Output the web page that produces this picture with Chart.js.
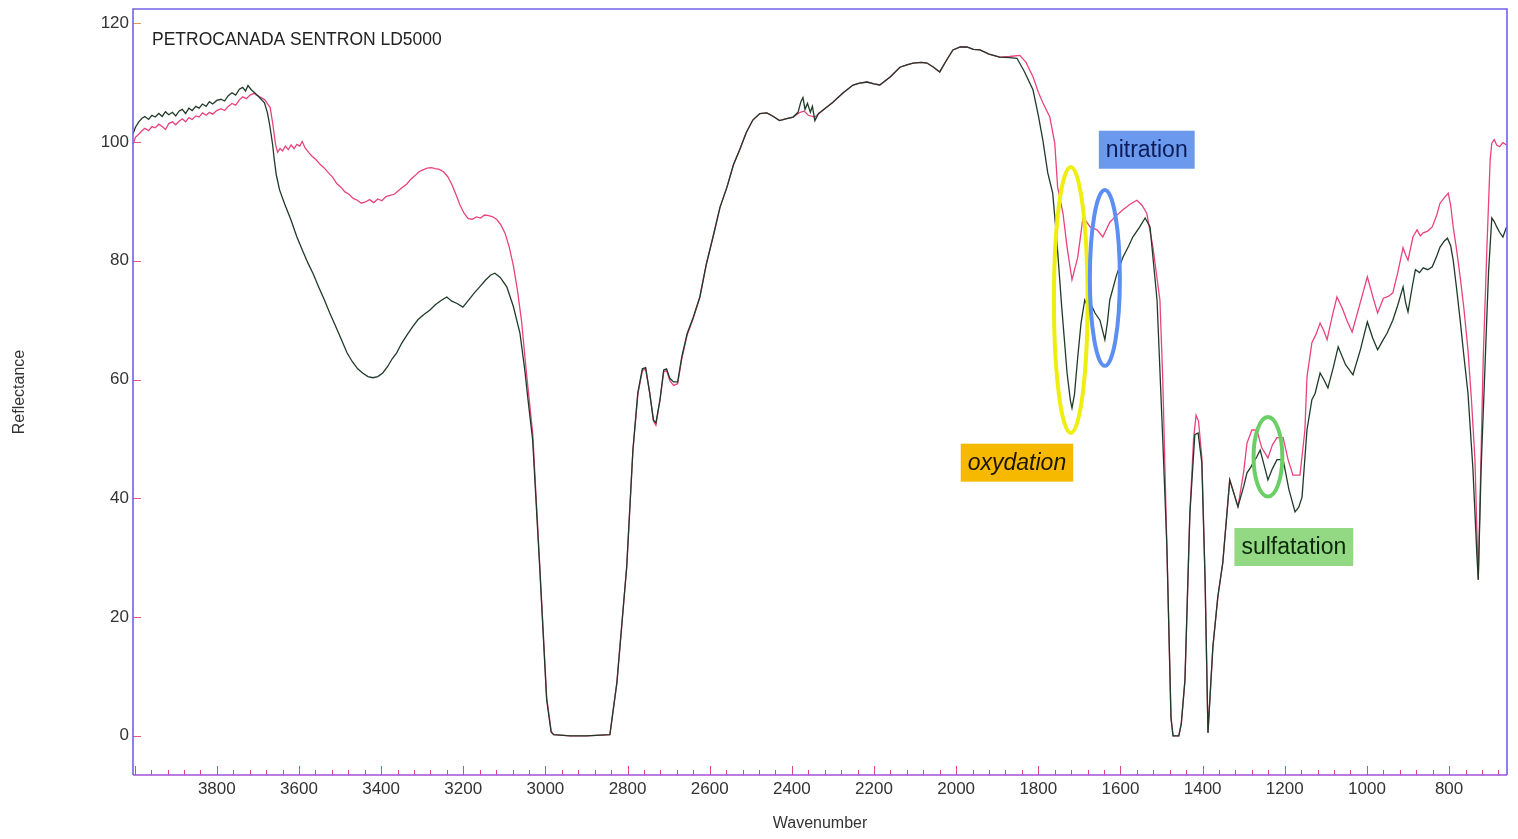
<!DOCTYPE html>
<html>
<head>
<meta charset="utf-8">
<title>PETROCANADA SENTRON LD5000</title>
<script src="https://cdn.jsdelivr.net/npm/chart.js@4.4.0/dist/chart.umd.min.js"></script>
<style>
  html, body { margin: 0; padding: 0; background: #fff; }
  #spectrum { display: block; }
</style>
</head>
<body>
<canvas id="spectrum" width="1518" height="839"></canvas>
<script>
// reference (new oil) spectrum - pink
const pinkWavenumbers = [
  4004, 3998, 3990, 3982, 3975, 3966, 3958, 3950, 3941, 3933, 3925, 3917, 3908, 3900, 3892, 3884,
  3876, 3868, 3860, 3851, 3843, 3835, 3826, 3818, 3810, 3800, 3790, 3781, 3772, 3763, 3754, 3745,
  3737, 3728, 3719, 3710, 3701, 3692, 3683, 3676, 3670, 3664, 3657, 3652, 3646, 3640, 3633, 3626,
  3619, 3612, 3605, 3598, 3592, 3585, 3576, 3568, 3558, 3548, 3538, 3528, 3518, 3508, 3498, 3488,
  3478, 3468, 3458, 3448, 3438, 3428, 3418, 3408, 3398, 3388, 3378, 3368, 3358, 3348, 3338, 3328,
  3318, 3308, 3298, 3288, 3278, 3268, 3258, 3248, 3238, 3228, 3218, 3208, 3198, 3188, 3178, 3168,
  3158, 3148, 3138, 3128, 3118, 3108, 3098, 3088, 3078, 3068, 3058, 3046, 3031, 3014, 2997, 2986,
  2980, 2940, 2900, 2843, 2826, 2802, 2787, 2775, 2764, 2756, 2746, 2737, 2731, 2721, 2712, 2705,
  2697, 2688, 2678, 2668, 2655, 2640, 2624, 2608, 2592, 2575, 2558, 2542, 2527, 2511, 2495, 2478,
  2461, 2445, 2430, 2415, 2397, 2380, 2370, 2360, 2344, 2320, 2300, 2275, 2251, 2235, 2217, 2200,
  2186, 2160, 2137, 2120, 2105, 2085, 2071, 2055, 2040, 2025, 2008, 1990, 1974, 1958, 1942, 1920,
  1894, 1870, 1845, 1830, 1813, 1800, 1789, 1772, 1760, 1753, 1740, 1730, 1718, 1704, 1691, 1674,
  1657, 1643, 1626, 1610, 1594, 1575, 1560, 1548, 1536, 1521, 1504, 1497, 1487, 1477, 1472, 1458,
  1452, 1443, 1431, 1422, 1416, 1410, 1402, 1394, 1387, 1375, 1363, 1351, 1334, 1314, 1300, 1292,
  1280, 1268, 1256, 1241, 1230, 1219, 1204, 1192, 1180, 1163, 1151, 1146, 1134, 1124, 1114, 1105,
  1097, 1085, 1073, 1060, 1048, 1036, 1018, 999, 985, 974, 960, 948, 937, 925, 912, 906,
  900, 888, 878, 870, 863, 852, 841, 830, 822, 812, 802, 796, 790, 782, 773, 764,
  754, 745, 737, 729, 722, 717, 708, 700, 696, 690, 684, 677, 669, 660
];
const pinkReflectance = [
  99.6, 100.8, 101.3, 101.9, 102.3, 101.9, 102.6, 102.4, 103.0, 102.6, 102.1, 103.1, 103.4, 102.9, 103.5, 103.9,
  103.4, 104.1, 103.8, 104.4, 104.2, 104.9, 104.5, 105.0, 104.7, 105.3, 105.6, 105.3, 106.0, 106.5, 106.2, 107.1,
  107.6, 107.3, 107.9, 108.2, 107.8, 107.5, 107.1, 106.4, 105.8, 103.2, 99.6, 98.3, 98.9, 98.5, 99.3, 98.7,
  99.5, 98.9, 99.6, 99.3, 100.1, 99.0, 98.2, 97.6, 97.0, 96.2, 95.6, 94.8, 94.1, 93.0, 92.4, 91.6,
  91.2, 90.5, 90.2, 89.7, 89.9, 90.3, 89.8, 90.4, 90.1, 90.8, 91.0, 91.2, 91.8, 92.4, 92.9, 93.7,
  94.3, 95.0, 95.3, 95.6, 95.7, 95.5, 95.4, 95.0, 94.2, 92.9, 91.2, 89.4, 88.0, 87.1, 87.0, 87.4,
  87.2, 87.7, 87.6, 87.4, 86.9, 86.0, 84.6, 82.3, 79.2, 75.0, 69.8, 61.0, 51.0, 29.0, 6.5, 0.8,
  0.2, 0, 0, 0.2, 9.0, 28.5, 48.0, 57.5, 61.5, 61.8, 57.7, 53.0, 52.3, 56.6, 61.3, 61.5,
  59.8, 59.0, 59.3, 63.5, 67.5, 70.3, 73.9, 79.5, 84.0, 89.0, 92.4, 96.2, 98.7, 101.6, 103.7, 104.8,
  104.9, 104.3, 103.6, 103.9, 104.2, 105.0, 105.2, 104.5, 104.2, 105.6, 106.7, 108.3, 109.6, 109.9, 110.1, 109.8,
  109.6, 111.0, 112.6, 113.0, 113.3, 113.4, 113.3, 112.6, 111.8, 113.6, 115.5, 116.0, 116.0, 115.6, 115.5, 114.8,
  114.3, 114.4, 114.6, 113.4, 111.0, 108.4, 106.6, 104.2, 99.8, 92.4, 88.0, 82.3, 76.8, 80.6, 87.4, 85.7,
  85.2, 84.0, 86.5, 87.6, 88.6, 89.6, 90.2, 89.4, 88.0, 82.3, 73.4, 60.0, 31.8, 3.0, 0, 0,
  2.0, 9.4, 37.5, 50.0, 54.0, 53.0, 47.0, 26.3, 0.5, 15.0, 23.4, 29.1, 43.1, 38.6, 44.5, 49.3,
  51.5, 51.5, 48.5, 46.8, 49.0, 50.2, 50.2, 46.5, 43.9, 43.9, 51.5, 60.4, 66.2, 67.6, 69.5, 68.2,
  66.7, 70.5, 73.9, 72.0, 69.8, 68.0, 72.5, 77.3, 73.8, 71.2, 73.7, 74.0, 74.6, 78.0, 82.2, 81.0,
  80.1, 84.0, 85.2, 84.2, 84.7, 85.0, 85.7, 87.7, 89.7, 90.6, 91.4, 89.3, 85.7, 82.0, 77.3, 72.0,
  65.0, 56.0, 46.5, 26.3, 48.0, 63.3, 82.0, 97.0, 99.8, 100.4, 99.5, 99.2, 99.9, 99.5
];

// used oil spectrum - dark green
const greenWavenumbers = [
  4004, 3998, 3990, 3982, 3975, 3966, 3958, 3950, 3941, 3933, 3925, 3917, 3908, 3900, 3892, 3884,
  3876, 3868, 3860, 3851, 3843, 3835, 3826, 3818, 3810, 3800, 3790, 3781, 3772, 3763, 3754, 3745,
  3737, 3730, 3724, 3716, 3708, 3700, 3692, 3684, 3677, 3672, 3668, 3664, 3660, 3655, 3647, 3635,
  3620, 3605, 3590, 3578, 3566, 3552, 3538, 3525, 3511, 3497, 3483, 3470, 3457, 3445, 3432, 3420,
  3408, 3396, 3384, 3373, 3362, 3350, 3336, 3323, 3310, 3295, 3281, 3268, 3254, 3240, 3228, 3215,
  3201, 3188, 3174, 3160, 3145, 3133, 3123, 3110, 3094, 3078, 3062, 3050, 3043, 3031, 3014, 2997,
  2986, 2980, 2940, 2900, 2843, 2826, 2802, 2787, 2775, 2764, 2756, 2746, 2737, 2731, 2721, 2712,
  2705, 2697, 2688, 2678, 2668, 2655, 2640, 2624, 2608, 2592, 2575, 2558, 2542, 2527, 2511, 2495,
  2478, 2461, 2445, 2430, 2415, 2397, 2385, 2378, 2373, 2368, 2362, 2355, 2350, 2344, 2335, 2320,
  2300, 2275, 2251, 2235, 2217, 2200, 2186, 2160, 2137, 2120, 2105, 2085, 2071, 2055, 2040, 2025,
  2008, 1990, 1974, 1958, 1942, 1920, 1894, 1870, 1852, 1835, 1813, 1800, 1789, 1777, 1765, 1755,
  1743, 1730, 1722, 1718, 1712, 1704, 1696, 1687, 1678, 1670, 1662, 1650, 1638, 1632, 1626, 1610,
  1594, 1580, 1570, 1555, 1540, 1528, 1511, 1497, 1487, 1477, 1472, 1458, 1452, 1443, 1431, 1419,
  1411, 1402, 1394, 1387, 1375, 1363, 1351, 1334, 1314, 1300, 1292, 1283, 1277, 1268, 1260, 1250,
  1241, 1230, 1219, 1204, 1190, 1175, 1166, 1158, 1146, 1134, 1126, 1114, 1105, 1095, 1082, 1070,
  1052, 1034, 1016, 999, 986, 974, 962, 951, 937, 925, 912, 906, 900, 890, 882, 872,
  863, 852, 841, 830, 822, 812, 804, 796, 790, 782, 773, 764, 754, 742, 732, 729,
  722, 712, 704, 696, 690, 684, 677, 669, 660
];
const greenReflectance = [
  101.4, 102.5, 103.4, 104.0, 104.3, 103.8, 104.5, 104.2, 104.8, 104.3, 105.1, 104.6, 105.0, 104.4, 105.2, 105.5,
  104.8, 105.7, 105.3, 106.0, 105.7, 106.4, 106.0, 106.8, 106.4, 107.0, 107.2, 106.9, 107.8, 108.3, 107.9, 108.9,
  109.2, 108.6, 109.5, 108.8, 108.3, 107.8, 107.2, 106.6, 105.0, 103.2, 101.4, 99.5, 97.0, 94.4, 91.9, 89.6,
  87.0, 84.0, 81.5, 79.6, 77.9, 75.6, 73.4, 71.2, 69.0, 66.8, 64.5, 63.0, 61.8, 61.1, 60.5, 60.3,
  60.5, 61.1, 62.2, 63.5, 64.5, 66.1, 67.6, 68.9, 70.1, 71.0, 71.7, 72.6, 73.3, 73.9, 73.2, 72.8,
  72.2, 73.3, 74.5, 75.6, 76.8, 77.6, 77.9, 77.2, 75.6, 72.3, 67.8, 61.5, 57.0, 49.8, 28.5, 6.1,
  0.6, 0.2, 0, 0, 0.2, 8.9, 28.5, 48.1, 57.8, 61.8, 62.0, 57.7, 53.2, 52.7, 56.6, 61.6,
  61.8, 60.2, 59.6, 59.6, 63.8, 67.7, 70.5, 73.9, 79.5, 84.0, 89.0, 92.4, 96.2, 98.7, 101.6, 103.7,
  104.8, 104.9, 104.3, 103.6, 103.9, 104.2, 105.0, 106.8, 107.5, 105.5, 106.5, 105.0, 106.0, 103.6, 104.8, 105.6,
  106.7, 108.3, 109.6, 109.9, 110.1, 109.8, 109.6, 111.0, 112.6, 113.0, 113.3, 113.4, 113.3, 112.6, 111.8, 113.6,
  115.5, 116.0, 116.0, 115.6, 115.5, 114.8, 114.3, 114.2, 114.1, 112.0, 108.8, 104.5, 100.3, 94.8, 91.4, 83.5,
  72.2, 61.1, 56.5, 55.2, 57.5, 63.8, 69.5, 73.4, 72.0, 72.4, 71.2, 70.0, 66.7, 69.5, 73.4, 77.5,
  80.6, 82.5, 84.0, 85.5, 87.2, 85.7, 73.4, 49.8, 31.8, 3.0, 0, 0, 2.0, 9.4, 37.5, 50.7,
  51.0, 46.0, 26.3, 0.5, 15.0, 23.4, 29.1, 43.1, 38.6, 42.0, 44.3, 45.2, 46.0, 47.0, 48.1, 45.5,
  43.1, 45.0, 46.5, 46.5, 41.5, 37.7, 38.5, 40.2, 51.5, 56.6, 57.7, 61.1, 60.0, 58.6, 62.0, 65.5,
  62.5, 60.8, 65.0, 69.7, 67.0, 65.0, 66.5, 67.8, 70.0, 72.5, 75.6, 73.0, 71.4, 75.5, 78.5, 78.0,
  78.8, 78.5, 79.0, 80.8, 82.3, 83.3, 83.8, 82.5, 80.1, 75.5, 70.0, 64.0, 57.7, 45.0, 30.0, 26.3,
  45.0, 63.3, 78.0, 87.2, 86.6, 85.7, 84.8, 84.0, 85.7
];

const xLabelTicks = [3800, 3600, 3400, 3200, 3000, 2800, 2600, 2400, 2200, 2000, 1800, 1600, 1400, 1200, 1000, 800];
const yTicks = [0, 20, 40, 60, 80, 100, 120];

// band labels and rings, placed in data coordinates
const bandLabels = [
  { text: 'nitration', wn: 1536, r: 98.7, fill: '#6a99ee', color: '#0b1d58', italic: false },
  { text: 'oxydation', wn: 1852, r: 46.0, fill: '#f7b800', color: '#1e1600', italic: true },
  { text: 'sulfatation', wn: 1178, r: 31.8, fill: '#93d883', color: '#0c260c', italic: false }
];
const bandRings = [
  { wn: 1721, r: 73.4, dWn: 41, dR: 22.4, color: '#eeee10' },
  { wn: 1638, r: 77.1, dWn: 36.5, dR: 14.8, color: '#5d8ff2' },
  { wn: 1241, r: 47.0, dWn: 35, dR: 6.7, color: '#6ccf66' }
];

const FONT = '"Liberation Sans", Arial, Helvetica, sans-serif';

const toPoints = (xs, ys) => xs.map((x, i) => ({ x: x, y: ys[i] }));

const decorations = {
  id: 'decorations',
  afterDatasetsDraw(chart) {
    const ctx = chart.ctx;
    const area = chart.chartArea;
    const xs = chart.scales.x;
    const ys = chart.scales.y;
    ctx.save();

    // rings around the bands
    bandRings.forEach(ring => {
      const cx = xs.getPixelForValue(ring.wn);
      const cy = ys.getPixelForValue(ring.r);
      const rx = Math.abs(xs.getPixelForValue(ring.wn - ring.dWn) - cx);
      const ry = Math.abs(ys.getPixelForValue(ring.r + ring.dR) - cy);
      ctx.beginPath();
      ctx.ellipse(cx, cy, rx, ry, 0, 0, Math.PI * 2);
      ctx.strokeStyle = ring.color;
      ctx.lineWidth = 4;
      ctx.stroke();
    });

    // labelled boxes
    bandLabels.forEach(lab => {
      ctx.font = (lab.italic ? 'italic ' : '') + '23px ' + FONT;
      const w = ctx.measureText(lab.text).width + 14;
      const h = 38;
      const cx = xs.getPixelForValue(lab.wn);
      const cy = ys.getPixelForValue(lab.r);
      ctx.fillStyle = lab.fill;
      ctx.fillRect(cx - w / 2, cy - h / 2, w, h);
      ctx.fillStyle = lab.color;
      ctx.textAlign = 'center';
      ctx.textBaseline = 'middle';
      ctx.fillText(lab.text, cx, cy + 1);
    });

    // sample name
    ctx.font = '17.5px ' + FONT;
    ctx.fillStyle = '#222';
    ctx.textAlign = 'left';
    ctx.textBaseline = 'middle';
    ctx.fillText('PETROCANADA SENTRON LD5000', area.left + 19, area.top + 31);
    ctx.restore();
  },
  afterDraw(chart) {
    const ctx = chart.ctx;
    const area = chart.chartArea;
    const xs = chart.scales.x;
    const ys = chart.scales.y;
    ctx.save();

    // x tick marks, pointing inward
    ctx.strokeStyle = '#e0448a';
    ctx.lineWidth = 1;
    xs.ticks.forEach(t => {
      const px = Math.round(xs.getPixelForValue(t.value)) + 0.5;
      if (px < area.left || px > area.right) return;
      const len = t.value % 200 === 0 ? 9 : 5;
      ctx.beginPath();
      ctx.moveTo(px, area.bottom);
      ctx.lineTo(px, area.bottom - len);
      ctx.stroke();
    });
    // y tick marks
    ys.ticks.forEach(t => {
      const py = Math.round(ys.getPixelForValue(t.value)) + 0.5;
      ctx.strokeStyle = t.value === 120 ? '#e89a50' : '#e8508a';
      ctx.beginPath();
      ctx.moveTo(area.left, py);
      ctx.lineTo(area.left + 8, py);
      ctx.stroke();
    });

    // frame
    ctx.lineWidth = 1.6;
    ctx.strokeStyle = '#7262ea';
    ctx.beginPath();
    ctx.moveTo(area.left, area.bottom);
    ctx.lineTo(area.left, area.top);
    ctx.lineTo(area.right, area.top);
    ctx.lineTo(area.right, area.bottom);
    ctx.stroke();
    ctx.strokeStyle = '#a64fd6';
    ctx.beginPath();
    ctx.moveTo(area.left, area.bottom);
    ctx.lineTo(area.right, area.bottom);
    ctx.stroke();

    // axis titles
    ctx.fillStyle = '#333';
    ctx.font = '16px ' + FONT;
    ctx.textAlign = 'center';
    ctx.textBaseline = 'middle';
    ctx.fillText('Wavenumber', (area.left + area.right) / 2, 824);
    ctx.translate(20, 392);
    ctx.rotate(-Math.PI / 2);
    ctx.fillText('Reflectance', 0, 0);
    ctx.restore();
  }
};

new Chart(document.getElementById('spectrum').getContext('2d'), {
  type: 'line',
  data: {
    datasets: [
      {
        label: 'used oil',
        data: toPoints(greenWavenumbers, greenReflectance),
        borderColor: '#1f3b27',
        borderWidth: 1.3,
        pointRadius: 0,
        tension: 0,
        fill: false
      },
      {
        label: 'new oil',
        data: toPoints(pinkWavenumbers, pinkReflectance),
        borderColor: '#e8437e',
        borderWidth: 1.3,
        pointRadius: 0,
        tension: 0,
        fill: false
      }
    ]
  },
  options: {
    responsive: false,
    animation: false,
    layout: { padding: { top: 9, right: 11, left: 0, bottom: 0 } },
    plugins: {
      legend: { display: false },
      tooltip: { enabled: false }
    },
    scales: {
      x: {
        type: 'linear',
        reverse: true,
        min: 659,
        max: 4004,
        grid: { display: false, drawTicks: false },
        border: { display: false },
        ticks: {
          stepSize: 40,
          autoSkip: false,
          includeBounds: false,
          maxRotation: 0,
          padding: 4,
          color: '#333',
          font: { family: FONT, size: 17 },
          callback: v => (xLabelTicks.includes(v) ? String(v) : '')
        },
        afterFit: scale => {
          scale.height = 64;
          scale.paddingLeft = 0;
          scale.paddingRight = 0;
        }
      },
      y: {
        min: -6.6,
        max: 122.4,
        grid: { display: false, drawTicks: false },
        border: { display: false },
        ticks: {
          stepSize: 20,
          includeBounds: false,
          padding: 4,
          color: '#333',
          font: { family: FONT, size: 17 },
          callback: v => (yTicks.includes(v) ? String(v) : '')
        },
        afterFit: scale => {
          scale.width = 133;
          scale.paddingTop = 0;
          scale.paddingBottom = 0;
        }
      }
    }
  },
  plugins: [decorations]
});
</script>
</body>
</html>
